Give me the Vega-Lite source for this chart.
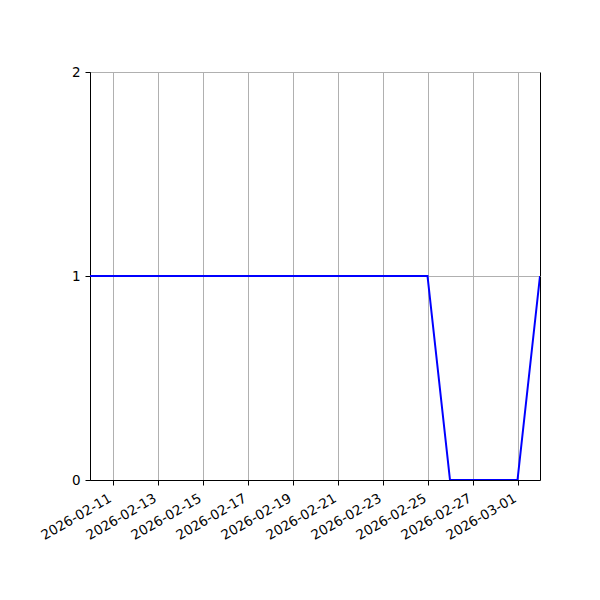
{
  "$schema": "https://vega.github.io/schema/vega-lite/v6.json",
  "width": 450,
  "height": 408,
  "autosize": {"type": "none"},
  "padding": {"left": 90, "top": 72, "right": 60, "bottom": 120},
  "background": "white",
  "config": {
    "view": {"stroke": "black", "strokeWidth": 1},
    "font": "DejaVu Sans",
    "axis": {
      "labelFont": "DejaVu Sans",
      "labelFontSize": 13.5,
      "labelColor": "black",
      "domainColor": "black",
      "tickColor": "black",
      "tickSize": 5,
      "gridColor": "#b0b0b0",
      "gridWidth": 1,
      "labelOverlap": false,
      "title": null
    }
  },
  "data": {
    "values": [
      {"date": "2026-02-10", "value": 1},
      {"date": "2026-02-11", "value": 1},
      {"date": "2026-02-12", "value": 1},
      {"date": "2026-02-13", "value": 1},
      {"date": "2026-02-14", "value": 1},
      {"date": "2026-02-15", "value": 1},
      {"date": "2026-02-16", "value": 1},
      {"date": "2026-02-17", "value": 1},
      {"date": "2026-02-18", "value": 1},
      {"date": "2026-02-19", "value": 1},
      {"date": "2026-02-20", "value": 1},
      {"date": "2026-02-21", "value": 1},
      {"date": "2026-02-22", "value": 1},
      {"date": "2026-02-23", "value": 1},
      {"date": "2026-02-24", "value": 1},
      {"date": "2026-02-25", "value": 1},
      {"date": "2026-02-26", "value": 0},
      {"date": "2026-02-27", "value": 0},
      {"date": "2026-02-28", "value": 0},
      {"date": "2026-03-01", "value": 0},
      {"date": "2026-03-02", "value": 1}
    ]
  },
  "mark": {"type": "line", "color": "#0000ff", "strokeWidth": 2, "clip": true},
  "encoding": {
    "x": {
      "field": "date",
      "type": "temporal",
      "scale": {"type": "utc", "domain": ["2026-02-10", "2026-03-02"], "nice": false},
      "axis": {
        "values": ["2026-02-11", "2026-02-13", "2026-02-15", "2026-02-17", "2026-02-19", "2026-02-21", "2026-02-23", "2026-02-25", "2026-02-27", "2026-03-01"],
        "labelExpr": "utcFormat(datum.value, '%Y-%m-%d')",
        "labelAngle": -30,
        "labelAlign": "right",
        "labelBaseline": "top",
        "labelPadding": 6,
        "labelOffset": -6,
        "grid": true
      }
    },
    "y": {
      "field": "value",
      "type": "quantitative",
      "scale": {"domain": [0, 2], "nice": false, "zero": false},
      "axis": {"values": [0, 1, 2], "labelExpr": "format(datum.value, 'd')", "grid": true, "labelPadding": 5}
    }
  }
}
